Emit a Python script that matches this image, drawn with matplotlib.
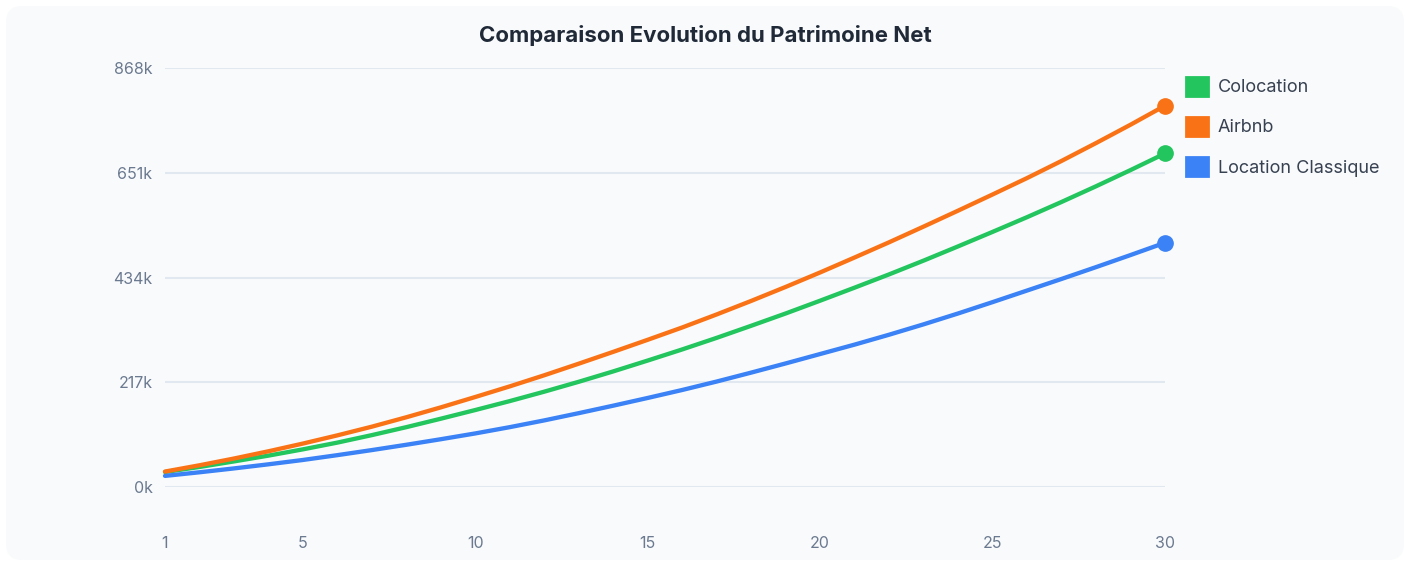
import matplotlib
matplotlib.use('Agg')
import matplotlib.pyplot as plt
from matplotlib.patches import FancyBboxPatch, Patch

plt.rcParams['font.family'] = ['Inter', 'DejaVu Sans']

# data (k EUR)
years = list(range(1, 31))
colocation = [31, 41.5, 53, 65, 78, 92, 107.5, 124, 141.5, 159.5,
              178, 197.5, 218, 239.5, 262, 285, 309, 334, 359.5, 386,
              413, 440.5, 469, 498.5, 528.5, 559, 590.5, 623, 656.5, 691]
airbnb = [32, 45, 59, 74, 90, 107, 125, 144.5, 165, 186.5,
          208.5, 231.5, 255.5, 280, 305, 330.5, 357.5, 385.5, 414.5, 444.5,
          475.5, 507, 539.5, 572.5, 606, 640, 675.5, 712.5, 750.5, 790]
classique = [23, 30.5, 38.5, 47, 56, 66, 76.5, 87.5, 99, 111,
             124, 138, 153, 168.5, 184.5, 201, 218.5, 237, 256, 275.5,
             295, 315.5, 337, 359.5, 383, 407, 431, 455.5, 480.5, 506]
x_ticks = [1, 5, 10, 15, 20, 25, 30]
y_ticks = [0, 217, 434, 651, 868]

series = [
    ('Colocation', colocation, '#22c55e', 2),
    ('Airbnb', airbnb, '#f97316', 4),
    ('Location Classique', classique, '#3b82f6', 3),
]

fig = plt.figure(figsize=(14.12, 5.62), dpi=100, facecolor='white')
panel = FancyBboxPatch((0.06, 0.02), 13.98, 5.54,
                       boxstyle='round,pad=0,rounding_size=0.16',
                       transform=fig.dpi_scale_trans,
                       facecolor='#f9fafb', edgecolor='none', zorder=-10)
fig.patches.append(panel)

ax = fig.add_axes([165 / 1412, 1 - 487 / 562, 1000 / 1412, 419 / 562])
ax.set_facecolor('none')

for name, vals, col, z in series:
    ax.plot(years, vals, color=col, lw=3.1, solid_capstyle='round',
            marker='o', markevery=[-1], markersize=11, zorder=z, clip_on=False)

ax.set_xlim(1, 30)
ax.set_ylim(0, 868)
ax.set_xticks(x_ticks)
ax.set_yticks(y_ticks)
ax.set_yticklabels(['%dk' % v for v in y_ticks])
ax.tick_params(axis='both', length=0, labelsize=11.5, colors='#6b7a90')
ax.tick_params(axis='x', pad=35)
ax.tick_params(axis='y', pad=9)
ax.grid(axis='y', color='#e2e8f0', lw=1.5)
ax.set_axisbelow(True)
for s in ax.spines.values():
    s.set_visible(False)

fig.text(705 / 1412, 1 - 36 / 562, 'Comparaison Evolution du Patrimoine Net',
         ha='center', va='center', fontsize=16, fontweight='bold', color='#1f2937')

handles = [Patch(facecolor=c, edgecolor=c, lw=2, joinstyle='round', label=n)
           for n, _, c, _ in series]
leg = fig.legend(handles=handles, loc='upper left',
                 bbox_to_anchor=(1186 / 1412, 1 - 77 / 562),
                 frameon=False, fontsize=13, handlelength=1.2, handleheight=1.2,
                 handletextpad=0.55, labelspacing=1.15, borderaxespad=0, borderpad=0)
for t in leg.get_texts():
    t.set_color('#374151')

fig.savefig('out.png', dpi=100, facecolor='white')
